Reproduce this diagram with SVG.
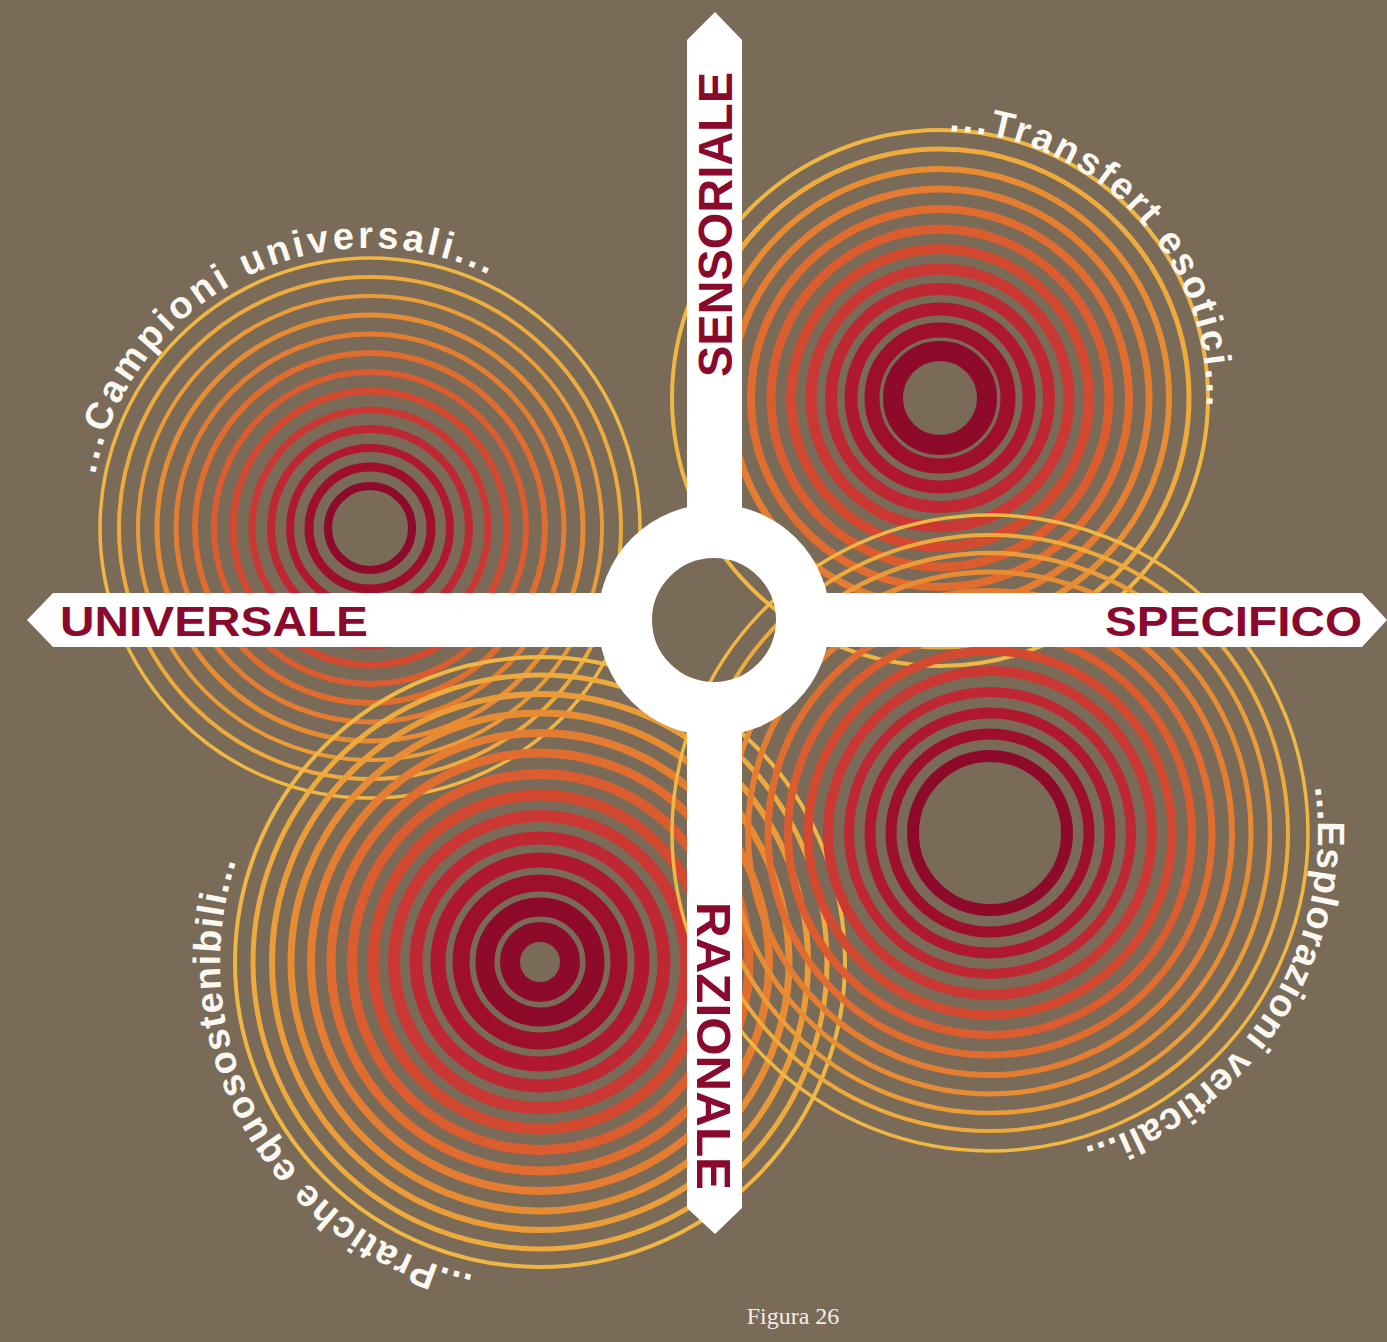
<svg xmlns="http://www.w3.org/2000/svg" width="1387" height="1342" viewBox="0 0 1387 1342">
<style>
circle{fill:none}
.k0{stroke:#8e0a2a}.k1{stroke:#9e0f2c}.k2{stroke:#b0182f}.k3{stroke:#bf2833}.k4{stroke:#cb3834}.k5{stroke:#d44a31}.k6{stroke:#db5c2f}.k7{stroke:#e06c2f}.k8{stroke:#e47c31}.k9{stroke:#e88c34}.k10{stroke:#eb9c38}.k11{stroke:#eeaa3d}.k12{stroke:#f1b745}
.bar{fill:#ffffff}
.lbl{font-family:"Liberation Sans",Arial,sans-serif;font-weight:bold;fill:#8a0a2e}
.arc{font-family:"Liberation Sans",Arial,sans-serif;font-weight:bold;fill:#fbf8f2;font-size:38px}
.cap{font-family:"Liberation Serif","Times New Roman",serif;font-size:24px;fill:#f3efe8}
</style>
<defs>
<path id="p-camp" d="M 95.2 474.6 A 280 280 0 0 1 510 285.5"/>
<path id="p-trans" d="M 949 131 A 267 267 0 0 1 1206 421.2"/>
<path id="p-espl" d="M 1314.8 787.3 A 328 328 0 0 1 1047 1156"/>
<path id="p-prat" d="M 473.5 1275 A 320 320 0 0 1 250 826.8"/>
</defs>
<rect width="1387" height="1342" fill="#7a6a58"/>

<g id="rings-ul" transform="translate(370 528)">
<circle class="k0" r="42" stroke-width="8"/>
<circle class="k1" r="61" stroke-width="9"/>
<circle class="k2" r="80" stroke-width="8"/>
<circle class="k3" r="99" stroke-width="8"/>
<circle class="k4" r="118" stroke-width="7"/>
<circle class="k5" r="137" stroke-width="7"/>
<circle class="k6" r="156" stroke-width="6"/>
<circle class="k7" r="175" stroke-width="6"/>
<circle class="k8" r="194" stroke-width="5"/>
<circle class="k9" r="213" stroke-width="5"/>
<circle class="k10" r="232" stroke-width="4"/>
<circle class="k11" r="251" stroke-width="4"/>
<circle class="k12" r="270" stroke-width="3.5"/>
</g>

<g id="rings-ur" transform="translate(940 398)">
<circle class="k0" r="47" stroke-width="20"/>
<circle class="k1" r="68" stroke-width="15"/>
<circle class="k2" r="89" stroke-width="13"/>
<circle class="k3" r="109" stroke-width="12"/>
<circle class="k4" r="129" stroke-width="11"/>
<circle class="k5" r="149" stroke-width="10"/>
<circle class="k6" r="169" stroke-width="9"/>
<circle class="k7" r="189" stroke-width="8"/>
<circle class="k8" r="209" stroke-width="7"/>
<circle class="k9" r="229" stroke-width="6"/>
<circle class="k11" r="249" stroke-width="5"/>
<circle class="k12" r="268" stroke-width="4"/>
</g>

<g id="rings-ll" transform="translate(540 962)">
<circle class="k0" r="30" stroke-width="20"/>
<circle class="k0" r="55" stroke-width="19"/>
<circle class="k1" r="79" stroke-width="17"/>
<circle class="k2" r="102" stroke-width="15"/>
<circle class="k3" r="124" stroke-width="13"/>
<circle class="k4" r="146" stroke-width="12"/>
<circle class="k5" r="167" stroke-width="11"/>
<circle class="k6" r="188" stroke-width="10"/>
<circle class="k7" r="209" stroke-width="9"/>
<circle class="k8" r="229" stroke-width="8"/>
<circle class="k9" r="249" stroke-width="7"/>
<circle class="k10" r="268" stroke-width="6"/>
<circle class="k11" r="287" stroke-width="5"/>
<circle class="k12" r="305" stroke-width="4"/>
</g>

<g id="rings-lr" transform="translate(990 833)">
<circle class="k0" r="77" stroke-width="12"/>
<circle class="k1" r="99" stroke-width="11"/>
<circle class="k2" r="120" stroke-width="11"/>
<circle class="k3" r="141" stroke-width="10"/>
<circle class="k4" r="162" stroke-width="10"/>
<circle class="k5" r="182" stroke-width="9"/>
<circle class="k6" r="202" stroke-width="8"/>
<circle class="k7" r="222" stroke-width="7"/>
<circle class="k8" r="242" stroke-width="6"/>
<circle class="k9" r="261" stroke-width="5"/>
<circle class="k10" r="280" stroke-width="4.5"/>
<circle class="k11" r="298" stroke-width="4"/>
<circle class="k12" r="318" stroke-width="3.5"/>
</g>

<g id="connectors">
<polygon class="bar" points="715,12 742,40 742,512 687,512 687,40"/>
<polygon class="bar" points="687,728 742,728 742,1208 715,1234 687,1208"/>
<polygon class="bar" points="27,620 53,593 602,593 602,647 53,647"/>
<polygon class="bar" points="826,593 1362,593 1387,620 1362,647 826,647"/>
<circle cx="714" cy="620" r="89" stroke="#ffffff" stroke-width="54"/>
</g>

<g id="node-sensoriale"><text class="lbl" font-size="48" transform="translate(732 377) rotate(-90)" textLength="305" lengthAdjust="spacingAndGlyphs">SENSORIALE</text></g>
<g id="node-razionale"><text class="lbl" font-size="48" transform="translate(697 902) rotate(90)" textLength="288" lengthAdjust="spacingAndGlyphs">RAZIONALE</text></g>
<g id="node-universale"><text class="lbl" font-size="43" x="60" y="636" textLength="308" lengthAdjust="spacingAndGlyphs">UNIVERSALE</text></g>
<g id="node-specifico"><text class="lbl" font-size="43" x="1105" y="636" textLength="257" lengthAdjust="spacingAndGlyphs">SPECIFICO</text></g>

<g id="label-campioni"><text class="arc" letter-spacing="3.5"><textPath href="#p-camp">...Campioni universali...</textPath></text></g>
<g id="label-transfert"><text class="arc" letter-spacing="2.8"><textPath href="#p-trans">...Transfert esotici...</textPath></text></g>
<g id="label-esplorazioni"><text class="arc" letter-spacing="0.8"><textPath href="#p-espl">...Esplorazioni verticali...</textPath></text></g>
<g id="label-pratiche"><text class="arc" letter-spacing="1.2"><textPath href="#p-prat">...Pratiche equosostenibili...</textPath></text></g>

<text class="cap" x="793" y="1324" text-anchor="middle">Figura 26</text>
</svg>
